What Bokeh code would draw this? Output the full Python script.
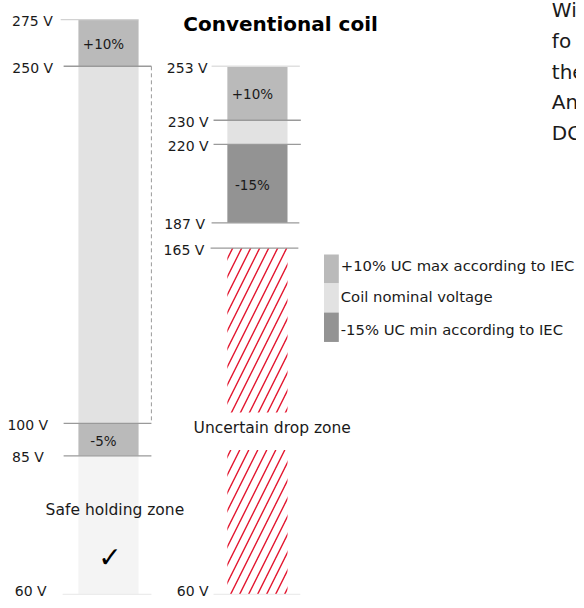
import numpy as np
from bokeh.plotting import figure
from bokeh.models import Range1d, ColumnDataSource
from bokeh.core.properties import value
from bokeh.embed import file_html
from bokeh.resources import INLINE

# ---------------- data ----------------
conv_title = "Conventional coil"
af_levels = [275, 250, 100, 85, 60]
af_level_labels = ["275 V", "250 V", "100 V", "85 V", "60 V"]
conv_levels = [253, 230, 220, 187, 165, 60]
conv_level_labels = ["253 V", "230 V", "220 V", "187 V", "165 V", "60 V"]

af_band_top = [275, 250, 100, 85]
af_band_bottom = [250, 100, 85, 60]
af_band_label = ["+10%", "", "-5%", ""]
af_band_kind = ["max", "nominal", "max", "safe"]

conv_band_top = [253, 230, 220]
conv_band_bottom = [230, 220, 187]
conv_band_label = ["+10%", "", "-15%"]
conv_band_kind = ["max", "nominal", "min"]

uncertain_top = 165
uncertain_bottom = 60

legend_labels = ["+10% UC max according to IEC", "Coil nominal voltage",
                 "-15% UC min according to IEC"]
legend_kinds = ["max", "nominal", "min"]
zone_labels = ["Safe holding zone", "Uncertain drop zone"]
side_text = ["Wi", "fo", "the", "An", "DC"]

# ---------------- layout (schematic, not to scale; reference pixel units) ----------------
AF_Y = [19.4, 66.7, 428.5, 461.4, 601.8]
CONV_Y = [66.7, 121.4, 145.8, 225.3, 250.9, 601.8]
AF_BAR = (79, 140)
CONV_BAR = (230, 291)
AF_LABEL_RIGHT = [53, 53.3, 48.3, 44, 46.7]
CONV_LABEL_RIGHT = [210, 211, 211, 207.3, 206.7, 211]
AF_TICK_X = [(61, 140), (64, 153), (64, 153), (64, 153), (63, 153)]
CONV_TICK_X = [(214, 303.5), (216, 304.5), (216, 304.5), (214, 303), (213, 302), (216, 304)]
AF_TICK_COLOR = ["#d2d2d2", "#9a9a9a", "#9a9a9a", "#9a9a9a", "#ececec"]
CONV_TICK_COLOR = ["#e0e0e0", "#9a9a9a", "#9a9a9a", "#9a9a9a", "#9a9a9a", "#ececec"]
HATCH_GAP = (417.5, 455.5)
LEGEND_X = (328, 343)
LEGEND_ROWS = [257.3, 286.7, 316.2, 346]
LEGEND_TEXT_Y = [268.5, 299.5, 333]
SIDE_Y = [10, 41, 72, 103, 134]
LABEL_MAX_Y = 598

COLORS = {"max": "#bababa", "nominal": "#e2e2e2", "min": "#939393", "safe": "#f4f4f4"}
FONT = value("DejaVu Sans")
TEXT = "#1a1a1a"


def af_y(v):
    return np.interp(v, af_levels[::-1], AF_Y[::-1])


def conv_y(v):
    return np.interp(v, conv_levels[::-1], CONV_Y[::-1])


p = figure(width=576, height=600, x_range=Range1d(0, 584), y_range=Range1d(608, 0),
           x_axis_type=None, y_axis_type=None, toolbar_location=None,
           output_backend="svg", min_border=0)
p.grid.visible = False
p.outline_line_color = None
p.background_fill_color = "white"
p.border_fill_color = "white"

# ---- AF coil bars ----
src = ColumnDataSource(dict(
    top=af_y(np.array(af_band_top)), bottom=af_y(np.array(af_band_bottom)),
    color=[COLORS[k] for k in af_band_kind]))
p.quad(left=AF_BAR[0], right=AF_BAR[1], top="top", bottom="bottom", fill_color="color",
       line_color=None, source=src)

# ---- Conventional coil bars ----
src = ColumnDataSource(dict(
    top=conv_y(np.array(conv_band_top)), bottom=conv_y(np.array(conv_band_bottom)),
    color=[COLORS[k] for k in conv_band_kind]))
p.quad(left=CONV_BAR[0], right=CONV_BAR[1], top="top", bottom="bottom", fill_color="color",
       line_color=None, source=src)

# ---- uncertain (hatched) zone, split around its label ----
ut, ub = conv_y(uncertain_top), conv_y(uncertain_bottom)
p.quad(left=CONV_BAR[0], right=CONV_BAR[1], top=[ut, HATCH_GAP[1]], bottom=[HATCH_GAP[0], ub],
       fill_color=None, line_color=None, hatch_pattern="/", hatch_color="#e3142d",
       hatch_scale=18, hatch_weight=1.4)

# ---- dashed connector ----
p.line(x=[AF_TICK_X[1][1], AF_TICK_X[1][1]], y=[af_y(250), af_y(100)],
       line_color="#9a9a9a", line_width=1, line_dash="4 3")

# ---- level tick lines ----
for i, v in enumerate(af_levels):
    p.line(x=list(AF_TICK_X[i]), y=[af_y(v)] * 2, line_color=AF_TICK_COLOR[i], line_width=1.4)
for i, v in enumerate(conv_levels):
    p.line(x=list(CONV_TICK_X[i]), y=[conv_y(v)] * 2, line_color=CONV_TICK_COLOR[i], line_width=1.4)

# ---- level labels ----
p.text(x=AF_LABEL_RIGHT, y=list(np.minimum(af_y(np.array(af_levels)) + 1.5, LABEL_MAX_Y)),
       text=af_level_labels, text_align="right", text_baseline="middle", text_font=FONT,
       text_font_size="14px", text_color=TEXT)
p.text(x=CONV_LABEL_RIGHT, y=list(np.minimum(conv_y(np.array(conv_levels)) + 1.5, LABEL_MAX_Y)),
       text=conv_level_labels, text_align="right", text_baseline="middle", text_font=FONT,
       text_font_size="14px", text_color=TEXT)

# ---- band labels ----
for tops, bots, labels, ymap, bar in [
        (af_band_top, af_band_bottom, af_band_label, af_y, AF_BAR),
        (conv_band_top, conv_band_bottom, conv_band_label, conv_y, CONV_BAR)]:
    xs, ys, ts = [], [], []
    for t, b, lab in zip(tops, bots, labels):
        if lab:
            xs.append((bar[0] + bar[1]) / 2)
            ys.append((ymap(t) + ymap(b)) / 2 + 1)
            ts.append(lab)
    p.text(x=xs, y=ys, text=ts, x_offset=-5, text_align="center", text_baseline="middle",
           text_font=FONT, text_font_size="13.5px", text_color=TEXT)

# ---- zone labels ----
p.text(x=[116, 275.5], y=[516, 433], text=zone_labels, text_align="center",
       text_baseline="middle", text_font=FONT, text_font_size="15.5px", text_color=TEXT)
p.text(x=[111], y=[564], text=["\u2713"], text_align="center", text_baseline="middle",
       text_font=FONT, text_font_size="28px", text_font_style="bold", text_color="#000000")

# ---- title ----
p.text(x=[284], y=[24], text=[conv_title], text_align="center", text_baseline="middle",
       text_font=FONT, text_font_size="20px", text_font_style="bold", text_color="#000000")

# ---- legend ----
p.quad(left=LEGEND_X[0], right=LEGEND_X[1], top=LEGEND_ROWS[:-1], bottom=LEGEND_ROWS[1:],
       fill_color=[COLORS[k] for k in legend_kinds], line_color=None)
p.text(x=[345] * 3, y=LEGEND_TEXT_Y, text=legend_labels, text_align="left",
       text_baseline="middle", text_font=FONT, text_font_size="14.8px", text_color=TEXT)

# ---- cut-off body text at right edge (as in the reference) ----
p.text(x=[559] * 5, y=SIDE_Y, text=side_text, text_align="left", text_baseline="middle",
       text_font=FONT, text_font_size="20px", text_color=TEXT)

open("out.html", "w").write(file_html(p, INLINE))
